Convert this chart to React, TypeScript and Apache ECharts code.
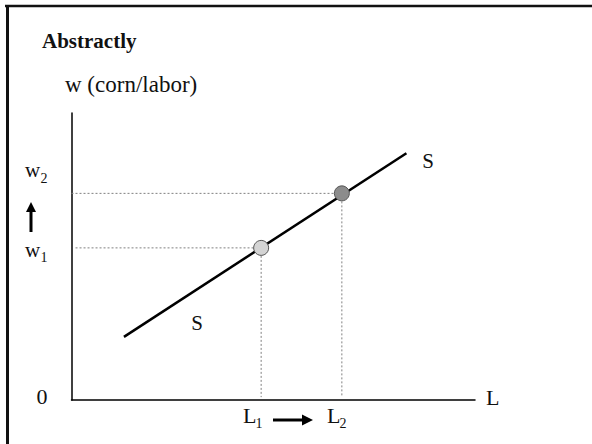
import React, { useEffect, useRef } from "react";
import * as echarts from "echarts";

const supplyL = [13, 83];
const supplyW = [22, 86];
const laborLevels = [47, 67];
const wageLevels = [53, 72];
const pointColors = ["#d4d4d4", "#8c8c8c"];
const FONT = "Liberation Serif";

export default function App() {
  const ref = useRef<HTMLDivElement>(null);
  useEffect(() => {
    document.body.style.margin = "0";
    const chart = echarts.init(ref.current!, null, { renderer: "svg" });
    const txt = (text: string, x: number, y: number, size: number, align = "left", weight = "normal") => ({
      type: "text",
      x,
      y,
      silent: true,
      style: { text, fontSize: size, fontFamily: FONT, fill: "#111", align, verticalAlign: "middle", fontWeight: weight },
    });
    const dotStyle = { color: "#808080", width: 1, type: [2, 2] as any };
    const series: any[] = [];
    laborLevels.forEach((l, i) => {
      const w = wageLevels[i];
      series.push({
        type: "line",
        data: [[i === 0 ? 1 : 0, w], [l, w]],
        symbol: "none",
        lineStyle: dotStyle,
        silent: true,
      });
      series.push({
        type: "line",
        data: [[l, w], [l, 1]],
        symbol: "none",
        lineStyle: dotStyle,
        silent: true,
      });
    });
    series.push({
      type: "line",
      name: "S",
      data: supplyL.map((l, i) => [l, supplyW[i]]),
      symbol: "none",
      lineStyle: { color: "#000", width: 2.5 },
      silent: true,
      z: 3,
    });
    laborLevels.forEach((l, i) => {
      series.push({
        type: "scatter",
        data: [[l, wageLevels[i]]],
        symbolSize: 15,
        itemStyle: { color: pointColors[i], borderColor: "#555", borderWidth: 1, opacity: 1 },
        silent: true,
        z: 4,
      });
    });
    chart.setOption({
      animation: false,
      backgroundColor: "#fff",
      grid: { left: 71.5, top: 113, width: 403.5, height: 287, containLabel: false },
      xAxis: {
        type: "value",
        min: 0,
        max: 100,
        axisLine: { show: true, lineStyle: { color: "#000", width: 1.5 } },
        axisTick: { show: false },
        axisLabel: { show: false },
        splitLine: { show: false },
      },
      yAxis: {
        type: "value",
        min: 0,
        max: 100,
        axisLine: { show: true, lineStyle: { color: "#000", width: 1.5 } },
        axisTick: { show: false },
        axisLabel: { show: false },
        splitLine: { show: false },
      },
      series,
      graphic: [
        { type: "line", shape: { x1: 5, y1: 6, x2: 592, y2: 6 }, style: { stroke: "#111", lineWidth: 2.5 } },
        { type: "line", shape: { x1: 7.5, y1: 5, x2: 7.5, y2: 444 }, style: { stroke: "#111", lineWidth: 3 } },
        txt("Abstractly", 42, 41, 21, "left", "bold"),
        txt("w (corn/labor)", 65, 84.5, 23),
        txt("w", 25, 170, 21),
        txt("2", 40.5, 178, 14),
        txt("w", 25, 250, 21),
        txt("1", 40.5, 257, 14),
        { type: "line", shape: { x1: 31, y1: 232, x2: 31, y2: 210 }, style: { stroke: "#000", lineWidth: 3 } },
        { type: "polygon", shape: { points: [[31, 202], [26, 212], [36, 212]] }, style: { fill: "#000" } },
        txt("0", 42, 396.5, 22, "center"),
        txt("L", 486, 397.5, 22),
        txt("L", 243, 415.5, 22),
        txt("1", 255.5, 423, 14),
        { type: "line", shape: { x1: 273, y1: 420, x2: 304, y2: 420 }, style: { stroke: "#000", lineWidth: 3 } },
        { type: "polygon", shape: { points: [[313, 420], [302, 414.5], [302, 425.5]] }, style: { fill: "#000" } },
        txt("L", 327, 415.5, 22),
        txt("2", 339.5, 423, 14),
        txt("S", 428, 161, 21, "center"),
        txt("S", 197, 323, 21, "center"),
      ],
    });
    return () => chart.dispose();
  }, []);
  return <div ref={ref} style={{ width: 592, height: 444 }} />;
}
